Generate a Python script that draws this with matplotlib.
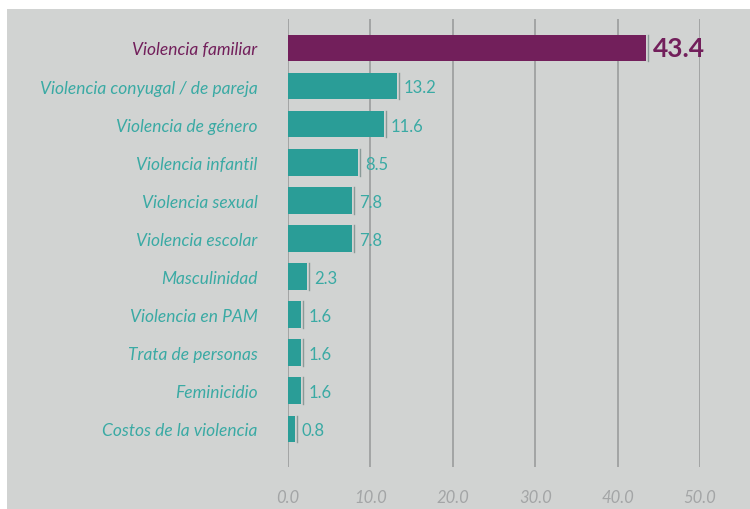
import numpy as np
import matplotlib.pyplot as plt
from matplotlib.patches import Rectangle

categories = ['Violencia familiar', 'Violencia conyugal / de pareja', 'Violencia de género',
              'Violencia infantil', 'Violencia sexual', 'Violencia escolar', 'Masculinidad',
              'Violencia en PAM', 'Trata de personas', 'Feminicidio', 'Costos de la violencia']
values = [43.4, 13.2, 11.6, 8.5, 7.8, 7.8, 2.3, 1.6, 1.6, 1.6, 0.8]
xticks = [0, 10, 20, 30, 40, 50]

teal = '#2a9d97'
teal_txt = '#3aaaa4'
purple = '#721f5b'
bg = '#d1d3d2'

plt.rcParams['font.family'] = ['Lato', 'DejaVu Sans']

fig = plt.figure(figsize=(7.5, 5.1), dpi=100, facecolor='white')
fig.patches.append(Rectangle((7 / 750, 0), 1, 1 - 10 / 510, transform=fig.transFigure,
                             facecolor=bg, edgecolor='none', zorder=-10))
ax = fig.add_axes([288 / 750, 42 / 510, 412 / 750, 448 / 510])
ax.patch.set_alpha(0)

y = np.arange(len(categories))
colors = [purple] + [teal] * (len(categories) - 1)
ax.barh(y, values, height=0.7, color=colors, zorder=3)

# thin shadow line at bar ends
for yi, v in zip(y, values):
    ax.plot([v + 0.25, v + 0.25], [yi - 0.35, yi + 0.35], color='#8a9a98', lw=1, zorder=3)

for i, (yi, v) in enumerate(zip(y, values)):
    if i == 0:
        ax.annotate(f'{v:.1f}', (v, yi), xytext=(5, 0), textcoords='offset points',
                    va='center', ha='left', fontsize=19, fontweight='bold', color=purple)
    else:
        ax.annotate(f'{v:.1f}', (v, yi), xytext=(5, -1), textcoords='offset points',
                    va='center', ha='left', fontsize=12, color=teal_txt)

ax.set_xlim(0, 50)
ax.set_ylim(len(categories) - 1 + 1.0, -0.76)
ax.set_xticks(xticks)
ax.set_xticklabels([f'{t:.1f}' for t in xticks], fontstyle='italic', color='#a3a5a6', fontsize=12)
ax.set_yticks(y)
ax.set_yticklabels(categories, fontstyle='italic', fontsize=12.5)
for lbl, c in zip(ax.get_yticklabels(), colors):
    lbl.set_color(purple if c == purple else teal_txt)
ax.tick_params(axis='both', length=0)
ax.tick_params(axis='x', pad=16)
ax.tick_params(axis='y', pad=22)
ax.xaxis.grid(True, color='#9a9c9c', lw=1.2, zorder=0)
ax.set_axisbelow(True)
for s in ax.spines.values():
    s.set_visible(False)

fig.savefig('out.png', dpi=100, facecolor='white')
